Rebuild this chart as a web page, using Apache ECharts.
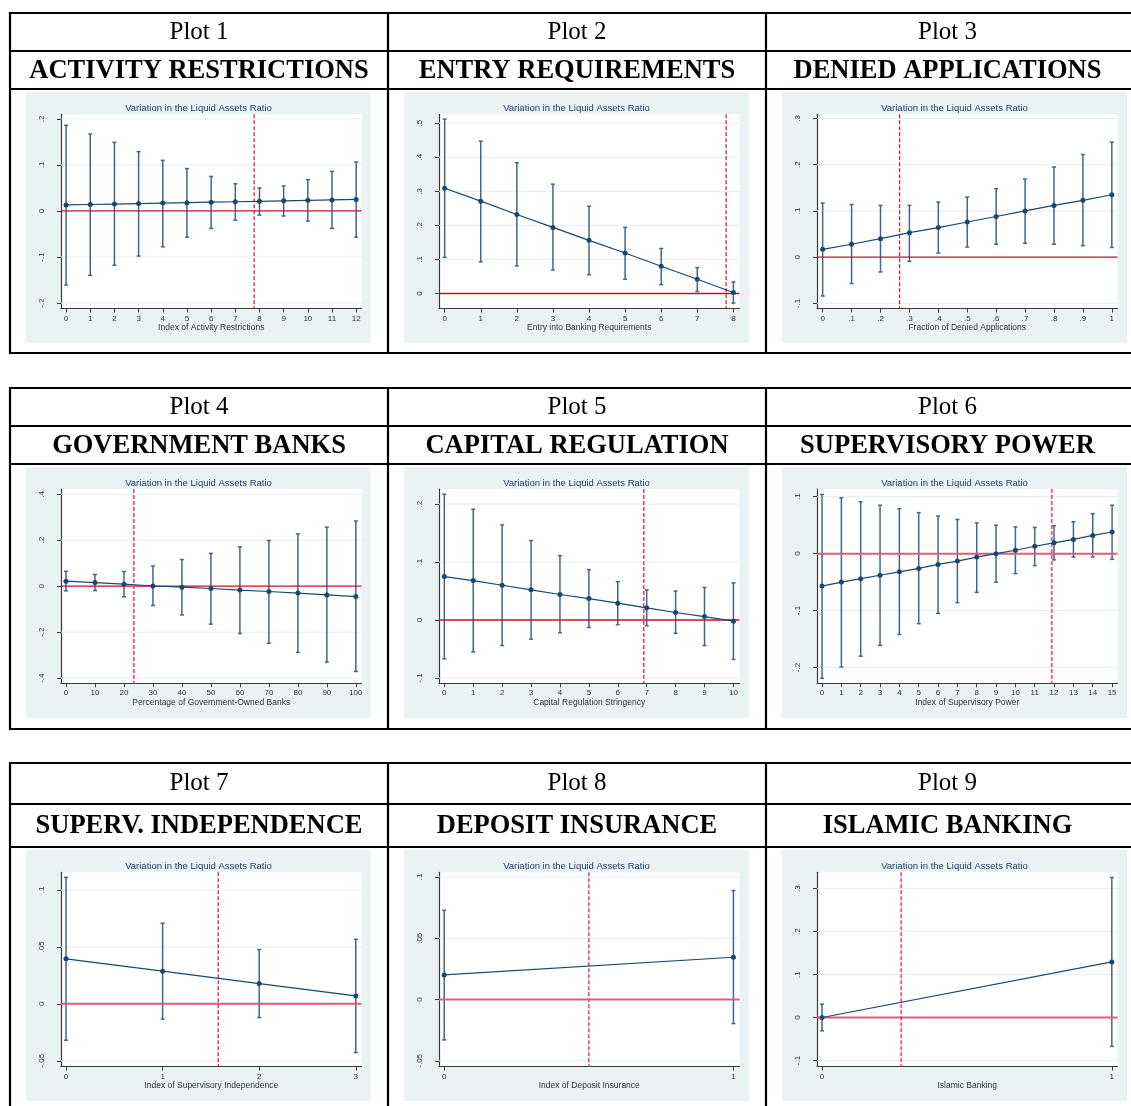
<!DOCTYPE html>
<html>
<head>
<meta charset="utf-8">
<title>Marginal effects on the liquid assets ratio</title>
<script src="https://cdn.jsdelivr.net/npm/echarts@6.0.0/dist/echarts.min.js"></script>
<style>
  html, body { margin: 0; padding: 0; background: #fff; }
  #chart { width: 1131px; height: 1106px; }
</style>
</head>
<body>
<div id="chart"></div>
<script>
// ---- data ----
const plotLabels = ['Plot 1', 'Plot 2', 'Plot 3', 'Plot 4', 'Plot 5', 'Plot 6', 'Plot 7', 'Plot 8', 'Plot 9'];
const plotTitles = ['ACTIVITY RESTRICTIONS', 'ENTRY REQUIREMENTS', 'DENIED APPLICATIONS',
  'GOVERNMENT BANKS', 'CAPITAL REGULATION', 'SUPERVISORY POWER',
  'SUPERV. INDEPENDENCE', 'DEPOSIT INSURANCE', 'ISLAMIC BANKING'];
const axisNames = ['Index of Activity Restrictions', 'Entry into Banking Requirements', 'Fraction of Denied Applications',
  'Percentage of Government-Owned Banks', 'Capital Regulation Stringency', 'Index of Supervisory Power',
  'Index of Supervisory Independence', 'Index of Deposit Insurance', 'Islamic Banking'];
const panelTitle = 'Variation in the Liquid Assets Ratio';

// plot 1
const p1X = [0, 1, 2, 3, 4, 5, 6, 7, 8, 9, 10, 11, 12];
const p1Est = [0.013, 0.014, 0.015, 0.016, 0.017, 0.018, 0.019, 0.020, 0.021, 0.022, 0.023, 0.024, 0.025];
const p1Lo = [-0.161, -0.140, -0.118, -0.098, -0.078, -0.057, -0.038, -0.020, -0.009, -0.011, -0.022, -0.038, -0.057];
const p1Hi = [0.186, 0.167, 0.149, 0.129, 0.110, 0.092, 0.075, 0.059, 0.050, 0.054, 0.068, 0.086, 0.106];
// plot 2
const p2X = [0, 1, 2, 3, 4, 5, 6, 7, 8];
const p2Est = [0.309, 0.271, 0.232, 0.194, 0.156, 0.119, 0.080, 0.042, 0.003];
const p2Lo = [0.106, 0.093, 0.081, 0.069, 0.055, 0.042, 0.026, 0.006, -0.028];
const p2Hi = [0.512, 0.447, 0.384, 0.321, 0.256, 0.194, 0.132, 0.076, 0.034];
// plot 3
const p3X = [0, 0.1, 0.2, 0.3, 0.4, 0.5, 0.6, 0.7, 0.8, 0.9, 1];
const p3Est = [0.017, 0.028, 0.040, 0.053, 0.064, 0.076, 0.088, 0.100, 0.112, 0.123, 0.135];
const p3Lo = [-0.084, -0.057, -0.032, -0.009, 0.009, 0.022, 0.028, 0.030, 0.028, 0.025, 0.021];
const p3Hi = [0.117, 0.114, 0.112, 0.112, 0.119, 0.130, 0.148, 0.169, 0.195, 0.222, 0.249];
// plot 4
const p4X = [0, 10, 20, 30, 40, 50, 60, 70, 80, 90, 100];
const p4Est = [0.022, 0.016, 0.009, 0.001, -0.004, -0.010, -0.017, -0.023, -0.030, -0.038, -0.045];
const p4Lo = [-0.020, -0.019, -0.046, -0.084, -0.125, -0.165, -0.206, -0.248, -0.288, -0.330, -0.371];
const p4Hi = [0.065, 0.051, 0.064, 0.088, 0.116, 0.143, 0.171, 0.199, 0.228, 0.257, 0.284];
// plot 5
const p5X = [0, 1, 2, 3, 4, 5, 6, 7, 8, 9, 10];
const p5Est = [0.075, 0.068, 0.060, 0.052, 0.044, 0.037, 0.029, 0.021, 0.013, 0.006, -0.002];
const p5Lo = [-0.067, -0.055, -0.044, -0.033, -0.022, -0.013, -0.008, -0.010, -0.023, -0.044, -0.068];
const p5Hi = [0.217, 0.191, 0.164, 0.137, 0.111, 0.087, 0.066, 0.052, 0.050, 0.056, 0.064];
// plot 6
const p6X = [0, 1, 2, 3, 4, 5, 6, 7, 8, 9, 10, 11, 12, 13, 14, 15];
const p6Est = [-0.057, -0.050, -0.044, -0.038, -0.032, -0.026, -0.019, -0.013, -0.006, 0.000, 0.006, 0.013, 0.019, 0.025, 0.032, 0.038];
const p6Lo = [-0.219, -0.199, -0.180, -0.161, -0.142, -0.123, -0.105, -0.086, -0.068, -0.050, -0.035, -0.021, -0.011, -0.006, -0.006, -0.010];
const p6Hi = [0.104, 0.098, 0.091, 0.085, 0.079, 0.072, 0.066, 0.060, 0.054, 0.050, 0.047, 0.046, 0.049, 0.056, 0.070, 0.085];
// plot 7
const p7X = [0, 1, 2, 3];
const p7Est = [0.0395, 0.0287, 0.0178, 0.0070];
const p7Lo = [-0.032, -0.0134, -0.012, -0.0427];
const p7Hi = [0.111, 0.0708, 0.0477, 0.0567];
// plot 8
const p8X = [0, 1];
const p8Est = [0.0201, 0.0345];
const p8Lo = [-0.0329, -0.0196];
const p8Hi = [0.0728, 0.0889];
// plot 9
const p9X = [0, 1];
const p9Est = [0, 0.1295];
const p9Lo = [-0.031, -0.0674];
const p9Hi = [0.031, 0.326];

// threshold (dashed red line) per plot
const thresholds = [7.78, 7.80, 0.266, 23.4, 6.90, 11.88, 1.576, 0.5, 0.273];

// tick labels
const xTicks = [
  [0, 1, 2, 3, 4, 5, 6, 7, 8, 9, 10, 11, 12],
  [0, 1, 2, 3, 4, 5, 6, 7, 8],
  [0, 0.1, 0.2, 0.3, 0.4, 0.5, 0.6, 0.7, 0.8, 0.9, 1],
  [0, 10, 20, 30, 40, 50, 60, 70, 80, 90, 100],
  [0, 1, 2, 3, 4, 5, 6, 7, 8, 9, 10],
  [0, 1, 2, 3, 4, 5, 6, 7, 8, 9, 10, 11, 12, 13, 14, 15],
  [0, 1, 2, 3],
  [0, 1],
  [0, 1]
];
const yTicks = [
  [-0.2, -0.1, 0, 0.1, 0.2],
  [0, 0.1, 0.2, 0.3, 0.4, 0.5],
  [-0.1, 0, 0.1, 0.2, 0.3],
  [-0.4, -0.2, 0, 0.2, 0.4],
  [-0.1, 0, 0.1, 0.2],
  [-0.2, -0.1, 0, 0.1],
  [-0.05, 0, 0.05, 0.1],
  [-0.05, 0, 0.05, 0.1],
  [-0.1, 0, 0.1, 0.2, 0.3]
];

const allX = [p1X, p2X, p3X, p4X, p5X, p6X, p7X, p8X, p9X];
const allEst = [p1Est, p2Est, p3Est, p4Est, p5Est, p6Est, p7Est, p8Est, p9Est];
const allLo = [p1Lo, p2Lo, p3Lo, p4Lo, p5Lo, p6Lo, p7Lo, p8Lo, p9Lo];
const allHi = [p1Hi, p2Hi, p3Hi, p4Hi, p5Hi, p6Hi, p7Hi, p8Hi, p9Hi];

// ---- layout (axis ranges include stata's plot-region margin) ----
const xRange = [[-0.21, 12.22], [-0.157, 8.17], [-0.0196, 1.0196], [-1.72, 101.95], [-0.184, 10.21],
  [-0.26, 15.28], [-0.052, 3.059], [-0.018, 1.021], [-0.0173, 1.0196]];
const yRange = [[-0.212, 0.210], [-0.044, 0.526], [-0.111, 0.309], [-0.422, 0.423], [-0.109, 0.226],
  [-0.2275, 0.1135], [-0.055, 0.1155], [-0.0546, 0.1038], [-0.114, 0.338]];

const colPlotLeft = [61, 439, 817];
const colPanel = [[26, 371], [404, 749], [782, 1127]];
const blocks = [
  { rows: [13, 51, 89, 353], panel: [92, 343], plotTop: 114.3, titleY: 108 },
  { rows: [388, 426, 464, 729], panel: [467, 718], plotTop: 489, titleY: 483 },
  { rows: [763, 804, 847, 1110], panel: [850, 1101], plotTop: 872.3, titleY: 866 }
];
const colDividers = [10, 388, 766];
const plotW = 300.5, plotH = 194.2;

const NAVY = '#1a476f';
const BAR = '#44668b';
const zeroStyle = [1, 1, 1, 1, 1, 2, 2, 2, 2];
const vlineStyle = [1, 1, 1, 2, 1, 2, 1, 2, 1];
const lineStyles = {
  1: { zero: { color: '#c8102e', width: 1.3 }, v: { color: '#d4143c', width: 1.2 } },
  2: { zero: { color: '#e05a7a', width: 2 }, v: { color: '#e05a7a', width: 1.8 } }
};

function fmt(v) {
  if (Math.abs(v) < 1e-9) return '0';
  let s = String(+v.toFixed(4));
  return s.replace(/^0\./, '.').replace(/^-0\./, '-.');
}

// capped range bar for the confidence interval
function renderBar(params, api) {
  const x = api.value(0), lo = api.value(1), hi = api.value(2);
  const a = api.coord([x, lo]);
  const b = api.coord([x, hi]);
  const cap = 2;
  const st = { stroke: BAR, lineWidth: 1.5 };
  return {
    type: 'group',
    children: [
      { type: 'line', shape: { x1: a[0], y1: a[1], x2: b[0], y2: b[1] }, style: st },
      { type: 'line', shape: { x1: a[0] - cap, y1: a[1], x2: a[0] + cap, y2: a[1] }, style: st },
      { type: 'line', shape: { x1: b[0] - cap, y1: b[1], x2: b[0] + cap, y2: b[1] }, style: st }
    ]
  };
}

// horizontal grid line at a y tick
function renderGridLine(params, api) {
  const cs = params.coordSys;
  const y = api.coord([api.value(0), api.value(1)])[1];
  return { type: 'line', shape: { x1: cs.x, y1: y, x2: cs.x + cs.width, y2: y },
    style: { stroke: '#e6eef0', lineWidth: 1 } };
}

// zero line (y = 0) and the dashed threshold line (x = threshold)
function makeRefRenderer(zs, vs) {
  return function (params, api) {
    const cs = params.coordSys;
    const p = api.coord([api.value(0), 0]);
    return {
      type: 'group',
      children: [
        { type: 'line', shape: { x1: cs.x, y1: p[1], x2: cs.x + cs.width, y2: p[1] },
          style: { stroke: zs.color, lineWidth: zs.width } },
        { type: 'line', shape: { x1: p[0], y1: cs.y, x2: p[0], y2: cs.y + cs.height },
          style: { stroke: vs.color, lineWidth: vs.width, lineDash: [4, 2] } }
      ]
    };
  };
}

const grids = [], xAxes = [], yAxes = [], series = [], graphics = [];
const SANS = 'Liberation Sans, Arial, sans-serif';
const SERIF = 'Liberation Serif, Times New Roman, serif';

// table lines and header text
blocks.forEach(function (bk, b) {
  bk.rows.slice(0, 3).forEach(function (y) {
    graphics.push({ type: 'line', shape: { x1: 9, y1: y, x2: 1131, y2: y }, style: { stroke: '#000', lineWidth: 2.2 } });
  });
  if (b < 2) {
    graphics.push({ type: 'line', shape: { x1: 9, y1: bk.rows[3], x2: 1131, y2: bk.rows[3] }, style: { stroke: '#000', lineWidth: 2.2 } });
  }
  colDividers.forEach(function (x) {
    graphics.push({ type: 'line', shape: { x1: x, y1: bk.rows[0] - 1, x2: x, y2: bk.rows[3] + 1 }, style: { stroke: '#000', lineWidth: 2.2 } });
  });
  for (let c = 0; c < 3; c++) {
    const i = b * 3 + c;
    const cx = c < 2 ? (colDividers[c] + colDividers[c + 1]) / 2 : (766 + 1131) / 2 - 1;
    graphics.push({ type: 'text', x: cx, y: (bk.rows[0] + bk.rows[1]) / 2,
      style: { text: plotLabels[i], font: '25px ' + SERIF, fill: '#000', align: 'center', verticalAlign: 'middle' } });
    graphics.push({ type: 'text', x: cx, y: (bk.rows[1] + bk.rows[2]) / 2 + 1,
      style: { text: plotTitles[i], font: 'bold 26.5px ' + SERIF, fill: '#000', align: 'center', verticalAlign: 'middle' } });
    // stata graph region background
    const pc = colPanel[c];
    graphics.push({ type: 'rect', z: -10, shape: { x: pc[0], y: bk.panel[0], width: pc[1] - pc[0], height: bk.panel[1] - bk.panel[0] },
      style: { fill: '#eaf2f3' } });
    graphics.push({ type: 'text', x: (pc[0] + pc[1]) / 2, y: bk.titleY,
      style: { text: panelTitle, font: '9.5px ' + SANS, fill: '#1e3e6e', align: 'center', verticalAlign: 'middle' } });
  }
});

for (let i = 0; i < 9; i++) {
  const b = Math.floor(i / 3), c = i % 3;
  grids.push({
    left: colPlotLeft[c], top: blocks[b].plotTop, width: plotW, height: plotH,
    show: true, backgroundColor: '#fff', borderWidth: 0, containLabel: false
  });
  xAxes.push({
    gridIndex: i, type: 'value', min: xRange[i][0], max: xRange[i][1], position: 'bottom',
    axisLine: { show: true, onZero: false, lineStyle: { color: '#3a3a3a', width: 1.2 } },
    axisTick: { show: true, customValues: xTicks[i], length: 4, lineStyle: { color: '#3a3a3a' } },
    axisLabel: { customValues: xTicks[i], formatter: fmt, fontSize: 8, color: '#333', margin: 6, fontFamily: SANS },
    splitLine: { show: false },
    name: axisNames[i], nameLocation: 'middle', nameGap: 14,
    nameTextStyle: { fontSize: 8.5, color: '#333', fontFamily: SANS }
  });
  yAxes.push({
    gridIndex: i, type: 'value', min: yRange[i][0], max: yRange[i][1], position: 'left',
    axisLine: { show: true, onZero: false, lineStyle: { color: '#3a3a3a', width: 1.2 } },
    axisTick: { show: true, customValues: yTicks[i], length: 4, lineStyle: { color: '#3a3a3a' } },
    axisLabel: { customValues: yTicks[i], formatter: fmt, fontSize: 8, color: '#333', margin: 15, rotate: 90, fontFamily: SANS },
    splitLine: { show: false }
  });

  const zs = lineStyles[zeroStyle[i]].zero, vs = lineStyles[vlineStyle[i]].v;
  // horizontal grid lines at the y ticks
  series.push({
    type: 'custom', xAxisIndex: i, yAxisIndex: i, z: 1, silent: true,
    renderItem: renderGridLine,
    encode: { x: 0, y: 1 },
    data: yTicks[i].filter(function (v) { return v !== 0; }).map(function (v) { return [xTicks[i][0], v]; })
  });
  // confidence intervals
  series.push({
    type: 'custom', xAxisIndex: i, yAxisIndex: i, z: 3, silent: true, clip: false,
    renderItem: renderBar,
    encode: { x: 0, y: [1, 2] },
    data: allX[i].map(function (x, k) { return [x, allLo[i][k], allHi[i][k]]; })
  });
  // zero line and threshold line
  series.push({
    type: 'custom', xAxisIndex: i, yAxisIndex: i, z: 8, silent: true,
    renderItem: makeRefRenderer(zs, vs),
    encode: { x: 0 },
    data: [[thresholds[i]]]
  });
  // marginal effect line
  series.push({
    type: 'line', xAxisIndex: i, yAxisIndex: i, z: 9, silent: true,
    data: allX[i].map(function (x, k) { return [x, allEst[i][k]]; }),
    symbol: 'circle', symbolSize: 5,
    itemStyle: { color: NAVY },
    lineStyle: { color: NAVY, width: 1.2 }
  });
}

const myChart = echarts.init(document.getElementById('chart'), null, { renderer: 'canvas' });
myChart.setOption({
  animation: false,
  backgroundColor: '#fff',
  grid: grids,
  xAxis: xAxes,
  yAxis: yAxes,
  series: series,
  graphic: { elements: graphics }
});
</script>
</body>
</html>
